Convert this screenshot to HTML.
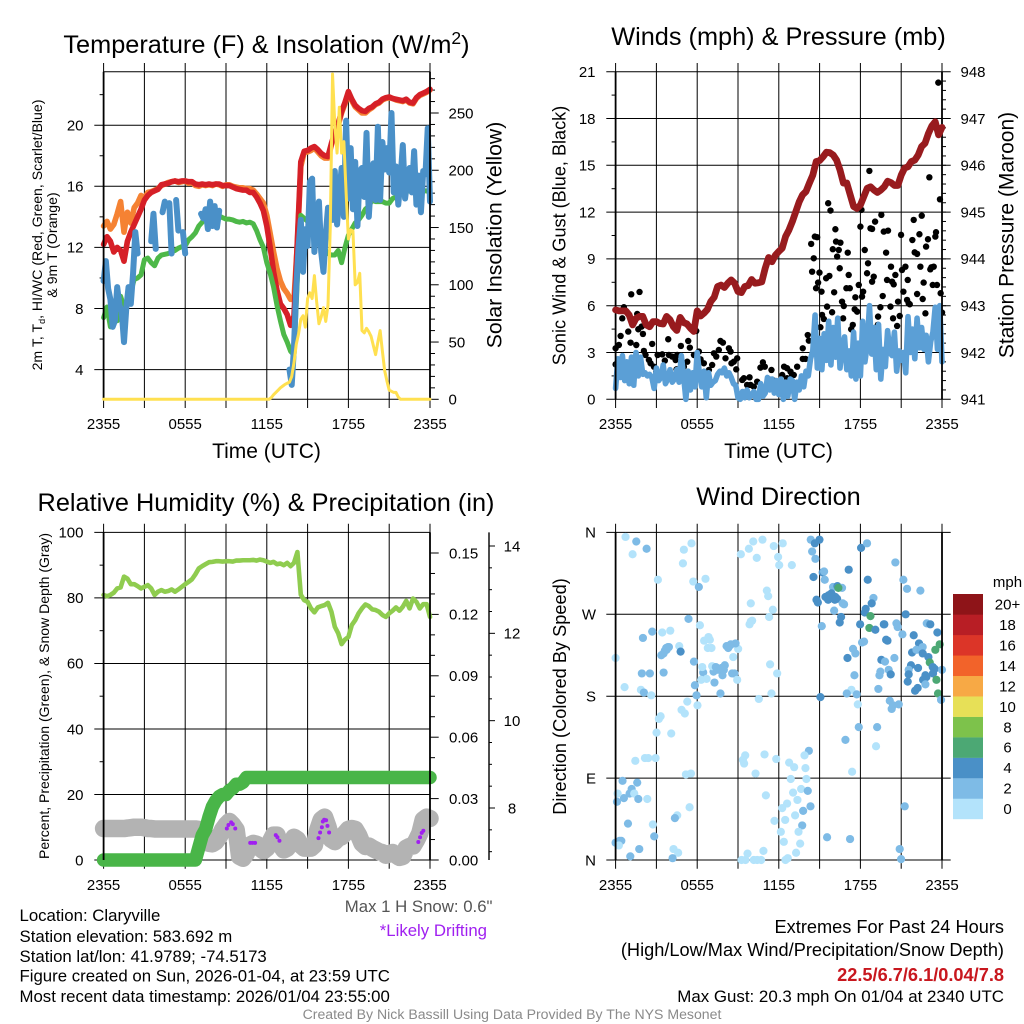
<!DOCTYPE html>
<html lang="en">
<head>
<meta charset="utf-8">
<title>Claryville Mesonet Meteogram</title>
<style>
html,body{margin:0;padding:0;background:#fff;}
svg{display:block;font-family:"Liberation Sans",sans-serif;}
text{fill:#000;}
</style>
</head>
<body>
<svg id="chart" xmlns="http://www.w3.org/2000/svg" width="1024" height="1024" viewBox="0 0 1024 1024">
<rect x="0" y="0" width="1024" height="1024" fill="#fff"/>
<g id="p1"></g>
<g id="p2"></g>
<g id="p3"></g>
<g id="p4"></g>

<text x="266.5" y="53" font-size="25.3" text-anchor="middle">Temperature (F) &amp; Insolation (W/m<tspan dy="-9" font-size="17.5">2</tspan><tspan dy="9">)</tspan></text>
<text transform="translate(42 235) rotate(-90)" font-size="14.1" text-anchor="middle">2m T, T<tspan dy="3" font-size="9">d</tspan><tspan dy="-3">, HI/WC (Red, Green, Scarlet/Blue)</tspan></text>
<text transform="translate(57 245) rotate(-90)" font-size="14.1" text-anchor="middle">&amp; 9m T (Orange)</text>
<text transform="translate(501.5 235) rotate(-90)" font-size="21.2" text-anchor="middle">Solar Insolation (Yellow)</text>
<text x="266.5" y="458" font-size="21" text-anchor="middle">Time (UTC)</text>

<text x="778.5" y="45" font-size="25.3" text-anchor="middle">Winds (mph) &amp; Pressure (mb)</text>
<text transform="translate(565.5 235.5) rotate(-90)" font-size="18.1" text-anchor="middle">Sonic Wind &amp; Gust (Blue, Black)</text>
<text transform="translate(1013.5 235) rotate(-90)" font-size="21" text-anchor="middle">Station Pressure (Maroon)</text>
<text x="778.5" y="458" font-size="21" text-anchor="middle">Time (UTC)</text>

<text x="266" y="511" font-size="25.3" text-anchor="middle">Relative Humidity (%) &amp; Precipitation (in)</text>
<text transform="translate(49 696) rotate(-90)" font-size="14" text-anchor="middle">Percent, Precipitation (Green), &amp; Snow Depth (Gray)</text>

<text x="778.5" y="505" font-size="25.3" text-anchor="middle">Wind Direction</text>
<text transform="translate(566 696.5) rotate(-90)" font-size="18.2" text-anchor="middle">Direction (Colored By Speed)</text>
<text x="1007.5" y="587" font-size="15" text-anchor="middle">mph</text>

<g font-size="16.8">
<text x="19.5" y="921">Location: Claryville</text>
<text x="19.5" y="942">Station elevation: 583.692 m</text>
<text x="19.5" y="962">Station lat/lon: 41.9789; -74.5173</text>
<text x="19.5" y="981.5">Figure created on Sun, 2026-01-04, at 23:59 UTC</text>
<text x="19.5" y="1002">Most recent data timestamp: 2026/01/04 23:55:00</text>
</g>
<text x="492.5" y="912" font-size="16.8" text-anchor="end" style="fill:#555">Max 1 H Snow: 0.6"</text>
<text x="487" y="936" font-size="16.8" text-anchor="end" style="fill:#a020f0">*Likely Drifting</text>
<g text-anchor="end">
<text x="1004" y="933" font-size="18.2">Extremes For Past 24 Hours</text>
<text x="1004" y="956" font-size="18.2">(High/Low/Max Wind/Precipitation/Snow Depth)</text>
<text x="1004" y="981" font-size="18.2" font-weight="bold" style="fill:#c8171e">22.5/6.7/6.1/0.04/7.8</text>
<text x="1004" y="1002" font-size="16.9">Max Gust: 20.3 mph On 01/04 at 2340 UTC</text>
</g>
<text x="512" y="1019" font-size="14.1" text-anchor="middle" style="fill:#8a8a8a">Created By Nick Bassill Using Data Provided By The NYS Mesonet</text>
</svg>

<script>
/* ---------- data: shared axis ---------- */
const hourTicks = [0, 3, 6, 9, 12, 15, 18, 21, 24];
const timeLabelHours = [0, 6, 12, 18, 24];
const timeLabels = ['2355', '0555', '1155', '1755', '2355'];

/* ---------- data: temperature panel ---------- */
const tempTicks = [4, 8, 12, 16, 20];
const tempMinorTicks = [6, 10, 14, 18, 22];
const solarTicks = [0, 50, 100, 150, 200, 250];
/* 15-minute samples */
const temp2m = [
12.2,12.7,12.4,11.7,12.0,11.8,11.1,12.4,13.0,13.5,
14.0,14.5,15.1,15.4,15.6,15.7,15.8,16.1,16.15,16.2,
16.3,16.35,16.3,16.35,16.35,16.3,16.3,16.15,16.1,16.15,
16.1,16.15,16.1,16.15,16.15,16.05,16.05,16.05,15.95,15.85,
15.8,15.75,15.75,15.6,15.6,15.3,14.9,14.4,13.4,12.0,
10.4,9.2,8.3,8.0,7.6,6.9,7.5,12.5,17.6,18.3,
18.35,18.5,18.6,18.4,18.15,18.0,17.95,18.8,19.5,20.1,
20.9,21.5,22.2,21.7,21.3,21.1,20.95,20.9,21.1,21.2,
21.4,21.5,21.7,21.8,21.85,21.75,21.7,21.65,21.6,21.7,
21.5,21.45,21.8,22.0,22.1,22.2,22.35];
const temp9m = [
13.4,13.7,13.2,13.5,14.2,15.0,13.0,14.3,13.6,14.6,
14.9,15.4,15.2,15.6,15.65,15.75,15.85,16.05,16.15,16.25,
16.3,16.35,16.25,16.3,16.35,16.2,16.25,16.05,16.0,16.1,
16.05,16.1,16.05,16.15,16.1,16.0,16.1,16.1,16.0,15.95,
15.9,15.9,15.85,15.85,15.75,15.5,15.2,14.9,14.1,12.9,
11.7,10.6,9.8,9.3,9.0,8.6,8.6,12.3,17.3,18.2,
18.25,18.35,18.5,18.25,18.0,17.85,17.85,18.7,19.4,20.0,
20.8,21.4,22.1,21.6,21.2,21.0,20.8,20.8,21.0,21.15,
21.35,21.45,21.65,21.75,21.8,21.75,21.65,21.6,21.55,21.65,
21.45,21.4,21.75,21.95,22.05,22.15,22.3];
const dewPoint = [
7.4,8.1,6.8,7.7,7.2,8.8,8.1,8.5,9.1,9.9,
10.0,10.2,11.2,11.3,11.0,10.8,11.3,11.5,11.55,11.6,
11.7,11.8,11.95,12.05,12.1,12.5,12.7,12.95,13.4,13.65,
13.9,14.0,14.05,14.05,14.05,13.95,13.85,13.85,13.8,13.7,
13.65,13.7,13.6,13.65,13.55,13.1,12.5,12.0,11.0,10.3,
9.4,8.2,7.2,6.3,5.8,5.2,4.95,10.0,14.1,13.9,
13.7,12.9,12.7,12.5,12.2,11.9,11.6,11.5,11.5,11.8,
11.0,12.0,12.8,13.2,13.6,13.8,14.1,14.5,14.7,15.1,
15.0,15.0,15.0,14.9,14.9,15.2,15.3,15.4,15.5,15.6,
15.8,15.9,15.8,15.75,15.7,15.7,15.6];
/* 10-minute samples; null where no wind chill was reported */
const windChill = [
9.8,11.1,9.3,8.6,6.8,7.2,9.4,8.2,7.8,5.8,
8.0,9.4,8.3,10.3,13.0,11.6,null,null,null,null,
null,12.4,14.2,11.9,null,null,14.3,15.0,null,14.9,
11.6,null,15.1,13.1,null,13.0,11.6,null,null,null,
null,null,null,14.2,13.9,14.5,13.2,15.0,13.4,14.7,
13.3,14.4,null,null,null,null,null,null,null,null,
null,null,null,null,null,null,null,null,null,null,
null,null,null,null,null,null,null,null,null,null,
null,null,4.0,3.0,5.5,9.4,12.0,13.8,10.4,13.2,
12.1,16.3,16.5,11.7,13.5,15.0,11.7,10.4,12.8,14.6,
14.0,13.8,17.0,13.5,15.5,17.2,14.0,20.3,15.2,18.5,
14.5,17.6,13.4,17.0,17.2,15.3,19.5,14.0,16.5,17.5,
15.1,19.9,15.1,18.9,17.1,18.5,16.9,20.8,15.6,17.3,
14.8,16.5,18.7,15.2,16.4,17.2,15.6,18.3,14.8,16.7,
14.3,17.0,16.8,19.8,15.0];
const solar = [
0,0,0,0,0,0,0,0,0,0,0,0,0,0,0,0,0,0,0,0,
0,0,0,0,0,0,0,0,0,0,0,0,0,0,0,0,0,0,0,0,
0,0,0,0,0,0,0,0,0,0,0,0,0,0,0,0,0,0,0,0,
0,0,0,0,0,0,0,0,0,0,0,0,0,0,1.5,4,6,8,10,11.5,
13,14,15,20,32,48,57,70,73,63,88,93,88,108,85,66,72,80,68,82,
150,284,240,215,255,215,225,180,140,148,147,100,102,110,60,58,62,59,55,47,
39,50,60,42,25,16,8,7,6,6,2,0,0,0,0,0,0,0,0,0,
0,0,0,0,0];

/* ---------- data: winds panel ---------- */
const windTicks = [0, 3, 6, 9, 12, 15, 18, 21];
const windMinorTicks = [1.5, 4.5, 7.5, 10.5, 13.5, 16.5, 19.5];
const pressureTicks = [941, 942, 943, 944, 945, 946, 947, 948];
/* 15-minute samples */
const pressure = [
942.91,942.89,942.89,942.89,942.80,942.59,942.73,942.77,942.77,942.59,
942.55,942.66,942.66,942.62,942.61,942.77,942.70,942.55,942.47,942.75,
942.64,942.61,942.52,942.45,942.89,942.78,942.84,942.92,943.09,943.18,
943.41,943.44,943.39,943.48,943.55,943.48,943.30,943.28,943.41,943.43,
943.56,943.48,943.49,943.51,943.80,944.03,943.94,944.08,944.16,944.23,
944.48,944.62,944.80,945.01,945.22,945.37,945.44,945.62,945.79,946.08,
946.10,946.18,946.28,946.27,946.22,946.11,945.90,945.62,945.62,945.37,
945.12,945.08,945.15,945.33,945.51,945.54,945.47,945.42,945.47,945.54,
945.66,945.63,945.57,945.57,945.79,945.94,945.97,946.08,946.11,946.22,
946.40,946.47,946.68,946.84,946.93,946.65,946.81];
/* 10-minute samples */
const sonicWind = [
0.7,2.6,1.4,2.8,1.2,2.4,1.0,2.7,0.9,3.0,
1.5,2.7,1.6,1.7,1.5,1.6,1.4,0.7,2.0,1.2,
1.4,2.2,1.0,1.3,1.9,1.1,1.3,1.9,1.1,2.8,
1.5,0.0,1.8,0.6,1.7,0.8,3.0,1.6,0.8,1.8,
0.1,1.7,0.9,1.1,1.2,1.6,1.8,1.7,2.0,1.5,
1.7,1.4,1.0,0.9,0.1,0.0,0.5,0.1,0.6,0.1,
0.3,0.5,0.0,0.0,1.0,0.2,0.4,1.4,0.6,1.3,
0.4,1.2,0.3,1.3,0.0,1.1,0.2,1.3,1.2,0.0,
1.1,0.6,1.5,0.8,1.8,1.5,2.6,3.1,5.4,2.0,
3.9,1.9,4.2,2.5,5.0,2.2,4.6,2.7,5.2,2.0,
3.3,4.0,1.9,3.1,1.5,4.3,1.3,3.6,1.5,5.0,
2.4,3.5,6.0,2.9,4.6,1.9,4.8,1.3,3.2,2.1,
4.4,3.0,2.8,4.3,1.8,3.1,2.5,3.0,1.7,5.3,
3.0,4.5,2.6,5.2,3.3,4.6,3.2,4.1,2.4,3.7,
4.3,5.9,3.2,6.0,2.4];
const gustHours = [
0.0,0.0,0.24,0.37,0.49,0.61,1.15,1.76,0.93,1.10,1.52,1.59,1.67,1.91,2.01,2.08,2.20,2.45,2.57,2.69,
2.82,2.99,3.09,3.43,3.62,3.87,3.92,4.16,4.41,4.53,4.48,4.80,4.90,5.02,5.27,5.34,5.46,5.76,5.93,6.12,
6.25,6.49,6.74,6.86,7.10,7.23,7.40,7.59,7.71,7.89,8.08,8.33,8.45,8.52,8.69,8.94,8.87,9.31,9.43,9.67,
9.85,9.92,10.16,10.41,10.65,10.83,10.97,11.46,11.27,11.63,12.0,12.25,12.39,12.61,12.86,12.98,12.61,13.10,13.35,13.76,
13.76,13.96,14.13,14.21,14.38,14.57,14.45,14.65,14.82,14.99,14.74,14.89,15.14,15.06,15.18,15.31,15.55,15.48,15.72,15.63,
15.80,15.92,15.97,16.07,16.16,16.21,16.41,16.29,16.53,16.48,16.65,16.78,16.73,17.07,16.97,17.14,17.22,17.32,17.44,17.63,
17.58,17.76,17.88,18.0,18.08,18.12,18.2,18.32,18.49,18.56,18.66,18.74,18.86,18.86,18.98,19.08,19.18,19.28,19.3,19.54,
19.64,19.47,19.72,19.89,19.96,20.03,20.21,20.25,20.33,20.45,20.4,20.57,20.7,20.77,20.89,20.99,21.06,21.16,21.31,21.48,
21.43,21.55,21.63,21.82,21.92,21.99,22.17,22.17,22.34,22.41,22.51,22.58,22.65,22.78,22.83,22.97,23.07,23.14,23.22,23.32,
23.39,23.51,23.56,23.63,23.73,23.85,23.9,24.0];
const gustValues = [
2.24,3.27,3.48,4.06,5.19,5.90,6.73,6.88,4.34,3.63,3.48,5.47,4.49,4.66,4.19,3.10,2.84,2.52,2.31,3.55,
2.09,1.77,2.84,2.88,2.48,3.85,2.84,2.74,2.52,2.84,1.92,3.42,1.77,2.09,2.41,3.74,3.31,2.84,4.38,3.06,
2.56,2.31,1.67,1.88,2.20,2.95,2.74,3.16,3.74,3.63,2.63,3.27,3.06,2.31,2.41,2.63,1.92,1.24,1.35,0.92,
1.41,0.92,0.81,1.13,2.03,2.37,2.09,1.88,1.28,1.20,1.03,1.56,2.09,1.99,1.77,1.56,1.35,1.56,2.09,3.27,
2.59,2.59,4.12,3.76,9.96,9.04,8.18,10.43,10.39,8.12,7.12,7.48,6.90,4.62,5.41,5.15,5.94,7.76,7.91,12.57,
12.10,5.58,9.62,6.86,10.90,10.11,9.57,9.15,10.04,8.40,6.26,5.98,5.19,9.40,7.12,7.97,7.12,4.49,4.77,6.54,
5.77,5.62,7.33,11.07,12.14,6.58,6.90,9.57,8.08,8.72,14.64,10.96,10.92,7.54,7.86,11.39,3.95,4.77,5.30,11.82,
6.62,5.90,10.75,9.40,7.65,10.81,5.94,8.50,7.54,7.37,5.19,7.97,4.70,6.26,5.34,10.54,8.29,6.90,8.50,7.65,
6.37,6.15,6.09,10.21,11.50,9.42,9.32,6.75,10.58,8.50,11.77,6.43,7.48,5.51,9.79,10.26,14.23,8.33,8.46,7.33,
8.50,10.43,10.71,7.33,20.30,12.82,6.80,5.56];

/* ---------- data: humidity panel ---------- */
const percentTicks = [0, 20, 40, 60, 80, 100];
const percentMinorTicks = [10, 30, 50, 70, 90];
const precipTicks = [0, 0.03, 0.06, 0.09, 0.12, 0.15];
const precipTickLabels = ['0.00', '0.03', '0.06', '0.09', '0.12', '0.15'];
const precipMinorTicks = [0.01, 0.02, 0.04, 0.05, 0.07, 0.08, 0.1, 0.11, 0.13, 0.14];
const snowTicks = [8, 10, 12, 14];
const snowMinorTicks = [7, 7.5, 8.5, 9, 9.5, 10.5, 11, 11.5, 12.5, 13, 13.5, 14.0];
/* 15-minute samples */
const relativeHumidity = [
80.9,80.5,80.9,81.6,82.9,83.2,86.5,85.9,84.2,84.2,
83.6,82.9,83.4,83.9,82.9,80.9,81.9,82.4,81.9,82.1,
82.6,81.9,82.6,83.4,84.2,84.9,85.7,87.2,89.0,89.7,
90.3,90.9,91.0,91.2,91.2,91.1,91.2,91.2,91.1,91.4,
91.4,91.5,91.5,91.5,91.6,91.4,91.7,91.5,91.1,90.7,
91.0,90.3,90.5,90.0,90.7,89.7,90.7,94.0,81.0,79.3,
78.8,76.8,75.6,77.1,77.5,77.8,78.5,75.8,71.2,69.2,
65.9,67.3,68.1,71.7,73.2,75.3,76.8,78.0,77.5,76.5,
76.3,75.8,74.8,74.2,75.3,76.1,77.1,76.1,77.3,79.1,
76.8,79.8,78.8,76.8,78.1,78.1,74.2];
const precipitation = [
0,0,0,0,0,0,0,0,0,0,0,0,0,0,0,0,0,0,0,0,
0,0,0,0,0,0,0,0,0.006,0.012,
0.015,0.021,0.026,0.029,0.031,0.032,0.032,0.034,0.035,0.037,
0.037,0.038,0.0403,0.0403,0.0403,0.0403,0.0403,0.0403,0.0403,0.0403,
0.0403,0.0403,0.0403,0.0403,0.0403,0.0403,0.0403,0.0403,0.0403,0.0403,
0.0403,0.0403,0.0403,0.0403,0.0403,0.0403,0.0403,0.0403,0.0403,0.0403,
0.0403,0.0403,0.0403,0.0403,0.0403,0.0403,0.0403,0.0403,0.0403,0.0403,
0.0403,0.0403,0.0403,0.0403,0.0403,0.0403,0.0403,0.0403,0.0403,0.0403,
0.0403,0.0403,0.0403,0.0403,0.0403,0.0403,0.0403];
const snowDepth = [
7.53,7.53,7.53,7.53,7.53,7.53,7.53,7.54,7.55,7.56,
7.56,7.56,7.55,7.53,7.53,7.52,7.52,7.52,7.52,7.52,
7.52,7.52,7.52,7.52,7.52,7.52,7.52,7.52,7.51,7.50,
7.38,7.19,7.18,7.23,7.34,7.50,7.61,7.69,7.61,7.50,
6.89,6.85,6.96,7.15,7.19,7.17,7.08,7.02,7.08,7.23,
7.38,7.38,7.15,7.04,7.08,7.19,7.33,7.28,7.15,7.08,
7.08,7.08,7.15,7.50,7.73,7.79,7.57,7.28,7.23,7.31,
7.34,7.42,7.51,7.53,7.51,7.38,7.19,7.12,7.13,7.08,
7.04,7.00,6.98,6.92,6.95,6.98,6.92,6.87,6.89,7.08,
7.12,7.13,7.26,7.42,7.73,7.79,7.76];
const driftHours = [9.06,9.18,9.38,9.50,9.68,10.78,10.95,11.14,12.66,12.78,12.93,15.80,15.92,16.05,16.12,16.22,16.36,16.46,16.58,23.14,23.27,23.39,23.51];
const driftSnow = [7.53,7.61,7.67,7.63,7.53,7.20,7.20,7.20,7.38,7.33,7.25,7.31,7.44,7.56,7.69,7.73,7.72,7.59,7.44,7.22,7.33,7.43,7.48];

/* ---------- data: wind direction panel ---------- */
const compassValues = [0, 90, 180, 270, 360];
const compassLabels = ['N', 'E', 'S', 'W', 'N'];
const speedBinLabels = ['0', '2', '4', '6', '8', '10', '12', '14', '16', '18', '20+'];
const speedBinColors = ['#b3e3fb','#7ebbe6','#4a90c7','#4ca874','#7dc24b','#e7e057','#f7a945','#f2632a','#dc3528','#b81e25','#8e1418'];
const windHours = [
0.73,1.52,1.25,2.28,3.11,5.02,5.58,4.95,5.71,6.61,6.12,9.21,9.80,10.12,10.80,10.38,11.63,12.29,11.95,12.03,
12.96,11.12,11.22,9.94,11.56,11.29,14.35,14.65,14.99,14.45,14.69,15.23,15.33,14.55,15.38,15.99,16.31,16.65,16.38,17.14,
18.05,18.49,18.54,20.57,21.16,21.43,22.41,15.43,15.67,15.87,16.16,16.29,15.63,14.77,14.87,16.12,16.70,16.80,18.96,18.83,
18.39,18.32,16.07,16.58,16.48,18.74,18.66,19.10,17.98,19.72,19.76,20.65,20.74,21.33,22.88,23.14,23.66,21.92,21.09,22.31,
22.58,23.83,23.51,21.80,22.12,22.58,23.00,23.10,20.50,19.54,19.81,18.27,18.12,19.89,19.99,17.46,17.63,17.05,21.72,21.55,
22.24,23.32,23.46,23.34,24.00,20.08,19.47,19.40,20.23,17.56,21.55,21.48,22.78,22.85,22.61,23.59,22.78,19.32,22.21,22.02,
23.71,17.34,17.00,17.73,15.06,15.16,23.93,20.16,20.82,20.40,20.30,17.81,5.36,2.69,2.01,3.43,4.02,6.20,9.94,10.04,
9.85,4.68,4.78,3.36,3.53,3.62,3.72,3.85,3.92,3.75,5.76,0.00,1.93,2.52,3.53,6.44,6.37,0.66,1.86,2.08,
2.62,5.83,5.95,5.27,6.29,6.69,7.27,7.71,7.20,7.10,7.37,7.52,7.86,8.03,7.79,7.96,8.57,8.74,8.94,8.65,
9.01,8.82,8.47,8.16,8.28,8.43,6.83,6.51,6.93,6.78,7.05,11.36,11.88,11.46,10.53,6.02,4.85,5.09,3.18,3.31,
3.01,4.09,17.88,19.23,16.90,19.15,14.21,13.89,11.81,10.95,9.53,9.36,9.45,12.76,13.13,13.96,1.45,2.16,2.40,2.94,
5.17,5.54,10.29,17.39,12.88,14.03,0.51,1.59,1.18,1.03,0.61,0.15,1.37,1.67,0.10,2.33,5.44,13.64,14.13,13.05,
11.05,13.37,12.61,12.25,14.33,13.79,13.20,12.47,11.68,13.72,13.45,12.15,12.37,13.57,4.53,4.36,2.74,0.91,2.84,21.26,
15.55,17.24,20.89,20.99,0.00,0.29,0.42,0.24,1.74,1.08,4.26,4.60,4.19,9.70,10.87,13.27,12.66,12.49,9.26,9.55,
10.16,10.41,10.70];
const windDirection = [
355,350,336,342,308,341,348,326,306,309,300,336,342,350,352,332,345,348,333,324,
324,296,290,282,275,267,352,348,352,339,331,316,317,311,308,300,301,299,299,319,
343,348,308,327,308,298,296,289,291,293,289,287,286,286,283,286,282,281,288,282,
276,272,274,267,261,268,255,253,259,259,259,260,256,270,260,259,250,247,248,238,
234,237,231,228,231,227,223,217,222,220,218,240,239,242,241,232,227,222,214,209,
211,212,210,205,209,209,207,203,204,203,204,196,203,201,198,198,193,188,189,186,
183,187,183,182,179,257,176,175,171,170,166,171,265,251,244,250,252,258,262,263,
259,235,229,225,227,230,233,234,234,231,218,222,205,205,206,206,212,190,187,184,
181,192,181,174,198,199,195,183,207,213,212,209,203,214,211,209,205,205,198,223,
232,238,237,235,233,236,245,241,242,233,233,215,205,183,177,170,165,161,155,158,
140,139,146,146,132,125,120,115,111,116,115,110,106,107,102,101,109,112,112,112,
94,95,95,97,89,89,87,85,78,73,68,73,73,67,64,67,58,78,76,74,
71,66,62,57,59,54,49,44,43,38,31,31,20,18,49,46,39,40,26,59,
25,23,12,1,19,21,21,16,12,4,12,8,2,7,10,8,2,0,0,0,
0,0,0];
const windSpeed = [
0.8,2.2,0.8,2.2,0.8,0.8,0.8,0.8,0.8,0.8,2.2,0.8,0.8,0.8,0.8,0.8,0.8,0.8,0.8,0.8,
0.8,0.8,0.8,0.8,0.8,0.8,2.2,4,4,2.2,2.2,4,2.2,4,2.2,2.2,4,2.2,6.2,4,
4,2.2,4,2.2,2.2,2.2,2.2,4,4,4,4,4,4,4,4,4,2.2,2.2,2.2,4,
4,4,2.2,4,4,6.2,6.2,4,4,4,4,2.2,2.2,4,2.2,4,4,4,2.2,4,
2.2,6.2,6.2,4,2.2,4,4,6.2,2.2,4,2.2,2.2,2.2,4,4,2.2,2.2,4,4,2.2,
4,4,4,4,2.2,2.2,2.2,2.2,4,2.2,4,4,4,4,4,6.2,2.2,2.2,4,4,
6.2,0.8,2.2,2.2,4,2.2,2.2,2.2,2.2,2.2,2.2,0.8,2.2,2.2,2.2,0.8,0.8,0.8,0.8,0.8,
0.8,0.8,4,2.2,2.2,2.2,2.2,2.2,2.2,2.2,2.2,0.8,2.2,2.2,2.2,2.2,0.8,0.8,0.8,2.2,
0.8,2.2,2.2,0.8,0.8,0.8,2.2,2.2,2.2,0.8,2.2,2.2,2.2,2.2,2.2,2.2,2.2,2.2,0.8,0.8,
0.8,2.2,2.2,2.2,2.2,2.2,0.8,0.8,0.8,0.8,0.8,0.8,0.8,0.8,0.8,0.8,0.8,0.8,0.8,0.8,
0.8,0.8,2.2,2.2,2.2,0.8,2.2,0.8,0.8,0.8,0.8,0.8,0.8,0.8,0.8,0.8,0.8,0.8,0.8,0.8,
0.8,0.8,0.8,0.8,0.8,0.8,2.2,2.2,2.2,2.2,2.2,0.8,0.8,2.2,2.2,0.8,0.8,0.8,2.2,0.8,
0.8,0.8,0.8,0.8,2.2,2.2,0.8,0.8,0.8,2.2,0.8,0.8,0.8,0.8,0.8,2.2,0.8,2.2,2.2,2.2,
2.2,2.2,2.2,2.2,2.2,2.2,2.2,0.8,2.2,2.2,0.8,0.8,2.2,0.8,0.8,0.8,0.8,0.8,0.8,0.8,
0.8,0.8,0.8];

/* ---------- axis functions ---------- */
const xLeft = h => 103.6 + 13.6 * h;
const xRight = h => 615.6 + 13.6 * h;
const linear = (v0, y0, v1, y1) => v => y0 + (v - v0) * (y1 - y0) / (v1 - v0);
const yTemp = linear(12, 247.4, 8, 308.5);
const ySolar = linear(0, 399.3, 250, 113);
const yWind = linear(0, 399.3, 21, 71.7);
const yPressure = linear(941, 399.3, 948, 71.7);
const yPercent = linear(0, 860, 100, 532.4);
const yPrecip = linear(0, 860, 0.15, 553);
const ySnow = linear(8, 808, 14, 546);
const yDirection = linear(0, 860, 360, 532.4);

const TOP_A = 71.7, BOTTOM_A = 399.3, TOP_B = 532.4, BOTTOM_B = 860;
const NS = 'http://www.w3.org/2000/svg';

/* ---------- drawing helpers ---------- */
function add(parent, tag, attrs, name) {
  const el = document.createElementNS(NS, tag);
  for (const key in attrs) el.setAttribute(key, attrs[key]);
  
  
  parent.appendChild(el);
  return el;
}
function rule(parent, x1, y1, x2, y2, name, width) {
  return add(parent, 'line', {x1: x1, y1: y1, x2: x2, y2: y2, stroke: '#000', 'stroke-width': width || 1}, name);
}
function label(parent, x, y, str, anchor, name) {
  const el = add(parent, 'text', {x: x, y: y, 'font-size': 15, 'text-anchor': anchor}, name);
  el.textContent = str;
  return el;
}
function series(parent, values, xf, yf, color, width, name) {
  let d = '', pen = false;
  values.forEach((v, i) => {
    if (v === null) { pen = false; return; }
    const h = i * 24 / (values.length - 1);
    d += (pen ? 'L' : 'M') + xf(h).toFixed(2) + ' ' + yf(v).toFixed(2);
    pen = true;
  });
  return add(parent, 'path', {d: d, fill: 'none', stroke: color, 'stroke-width': width, 'stroke-linecap': 'round', 'stroke-linejoin': 'round'}, name);
}
function verticalGrid(parent, xf, top, bottom, baseline) {
  hourTicks.forEach(h => {
    rule(parent, xf(h), top - 8.7, xf(h), bottom + 8.7, 'time-gridline');
  });
  timeLabelHours.forEach((h, i) => {
    label(parent, xf(h), baseline, timeLabels[i], 'middle', 'time-tick-label');
  });
}
function frameSides(parent, xf, top, bottom) {
  rule(parent, xf(0), top, xf(0), bottom, 'left-axis-line', 1.8);
  rule(parent, xf(24), top, xf(24), bottom, 'right-axis-line', 1.8);
}

/* ---------- temperature panel ---------- */
const p1 = document.getElementById('p1');
verticalGrid(p1, xLeft, TOP_A, BOTTOM_A, 429);
tempTicks.forEach(v => {
  rule(p1, xLeft(0) - 9.3, yTemp(v), xLeft(24), yTemp(v), 'temperature-gridline');
  label(p1, 83.5, yTemp(v) + 5.3, String(v), 'end', 'temperature-tick-label');
});
tempMinorTicks.forEach(v => {
  rule(p1, xLeft(0) - 4, yTemp(v), xLeft(0), yTemp(v), 'temperature-minor-tick');
});
for (let w = 0; w <= 280; w += 10) {
  const major = w % 50 === 0;
  rule(p1, xLeft(24), ySolar(w), xLeft(24) + (major ? 8.7 : 5), ySolar(w), major ? 'solar-major-tick' : 'solar-minor-tick');
}
solarTicks.forEach(w => {
  label(p1, 448.5, ySolar(w) + 5.3, String(w), 'start', 'solar-tick-label');
});
rule(p1, xLeft(0), TOP_A, xLeft(24), TOP_A, 'top-axis-line');
rule(p1, xLeft(0), BOTTOM_A, xLeft(24), BOTTOM_A, 'bottom-axis-line');
series(p1, temp9m, xLeft, yTemp, '#f58233', 5.6, 'temperature-9m-line');
series(p1, temp2m, xLeft, yTemp, '#d62027', 5.6, 'temperature-2m-line');
series(p1, dewPoint, xLeft, yTemp, '#4db848', 5, 'dew-point-line');
series(p1, windChill, xLeft, yTemp, '#4a90c8', 6, 'wind-chill-line');
frameSides(p1, xLeft, TOP_A, BOTTOM_A);
series(p1, solar, xLeft, ySolar, '#ffe050', 3, 'solar-insolation-line');

/* ---------- winds panel ---------- */
const p2 = document.getElementById('p2');
verticalGrid(p2, xRight, TOP_A, BOTTOM_A, 429);
windTicks.forEach(v => {
  rule(p2, xRight(0) - 9.3, yWind(v), xRight(24) + 8.7, yWind(v), 'wind-gridline');
  label(p2, 595.5, yWind(v) + 5.3, String(v), 'end', 'wind-tick-label');
});
windMinorTicks.forEach(v => {
  rule(p2, xRight(0) - 4, yWind(v), xRight(0), yWind(v), 'wind-minor-tick');
});
for (let p = 941.2; p < 948; p += 0.2) {
  rule(p2, xRight(24), yPressure(p), xRight(24) + 4, yPressure(p), 'pressure-minor-tick');
}
pressureTicks.forEach(p => {
  label(p2, 960.5, yPressure(p) + 5.3, String(p), 'start', 'pressure-tick-label');
});
gustHours.forEach((h, i) => {
  add(p2, 'circle', {cx: xRight(h), cy: yWind(gustValues[i]), r: 3.2, fill: '#000'}, 'gust-point');
});
series(p2, sonicWind, xRight, yWind, '#5b9fd6', 5.6, 'sonic-wind-line');
frameSides(p2, xRight, TOP_A, BOTTOM_A);
series(p2, pressure, xRight, yPressure, '#981b1e', 6.8, 'station-pressure-line');

/* ---------- humidity panel ---------- */
const p3 = document.getElementById('p3');
verticalGrid(p3, xLeft, TOP_B, BOTTOM_B, 890);
percentTicks.forEach(v => {
  rule(p3, xLeft(0) - 9.3, yPercent(v), xLeft(24), yPercent(v), 'percent-gridline');
  label(p3, 83.5, yPercent(v) + 5.3, String(v), 'end', 'percent-tick-label');
});
percentMinorTicks.forEach(v => {
  rule(p3, xLeft(0) - 4, yPercent(v), xLeft(0), yPercent(v), 'percent-minor-tick');
});
precipTicks.forEach((v, i) => {
  rule(p3, xLeft(24), yPrecip(v), xLeft(24) + 8.7, yPrecip(v), 'precipitation-major-tick');
  label(p3, 449, yPrecip(v) + 5.3, precipTickLabels[i], 'start', 'precipitation-tick-label');
});
precipMinorTicks.forEach(v => {
  rule(p3, xLeft(24), yPrecip(v), xLeft(24) + 5, yPrecip(v), 'precipitation-minor-tick');
});
rule(p3, 489, TOP_B, 489, BOTTOM_B, 'snow-axis-line', 1.4);
snowTicks.forEach(v => {
  rule(p3, 489, ySnow(v), 495, ySnow(v), 'snow-major-tick');
  label(p3, 512, ySnow(v) + 5.3, String(v), 'middle', 'snow-tick-label');
});
snowMinorTicks.forEach(v => {
  rule(p3, 489, ySnow(v), 492, ySnow(v), 'snow-minor-tick');
});
series(p3, snowDepth, xLeft, ySnow, '#b3b3b3', 17.5, 'snow-depth-line');
driftHours.forEach((h, i) => {
  add(p3, 'circle', {cx: xLeft(h), cy: ySnow(driftSnow[i]), r: 2, fill: '#a020f0'}, 'drifting-snow-point');
});
series(p3, relativeHumidity, xLeft, yPercent, '#8fcc4f', 4.6, 'relative-humidity-line');
series(p3, precipitation, xLeft, yPrecip, '#49b548', 13.5, 'precipitation-line');
frameSides(p3, xLeft, TOP_B, BOTTOM_B);

/* ---------- wind direction panel ---------- */
const p4 = document.getElementById('p4');
verticalGrid(p4, xRight, TOP_B, BOTTOM_B, 890);
compassValues.forEach((v, i) => {
  rule(p4, xRight(0) - 9.3, yDirection(v), xRight(24) + 8.7, yDirection(v), 'direction-gridline');
  label(p4, 596, yDirection(v) + 5.3, compassLabels[i], 'end', 'direction-tick-label');
});
windHours.forEach((h, i) => {
  const bin = Math.min(speedBinColors.length - 1, Math.round(windSpeed[i] / 2));
  add(p4, 'circle', {cx: xRight(h), cy: yDirection(windDirection[i]), r: 4.1, fill: speedBinColors[bin]}, 'wind-direction-point');
});
frameSides(p4, xRight, TOP_B, BOTTOM_B);
speedBinLabels.forEach((str, i) => {
  const boxH = 225 / speedBinLabels.length;
  const boxTop = 819 - (i + 1) * boxH;
  add(p4, 'rect', {x: 953, y: boxTop, width: 30, height: boxH + 0.2, fill: speedBinColors[i]}, 'colorbar-segment');
  label(p4, 1007.5, boxTop + boxH / 2 + 5.3, str, 'middle', 'colorbar-label');
});
</script>
</body>
</html>
